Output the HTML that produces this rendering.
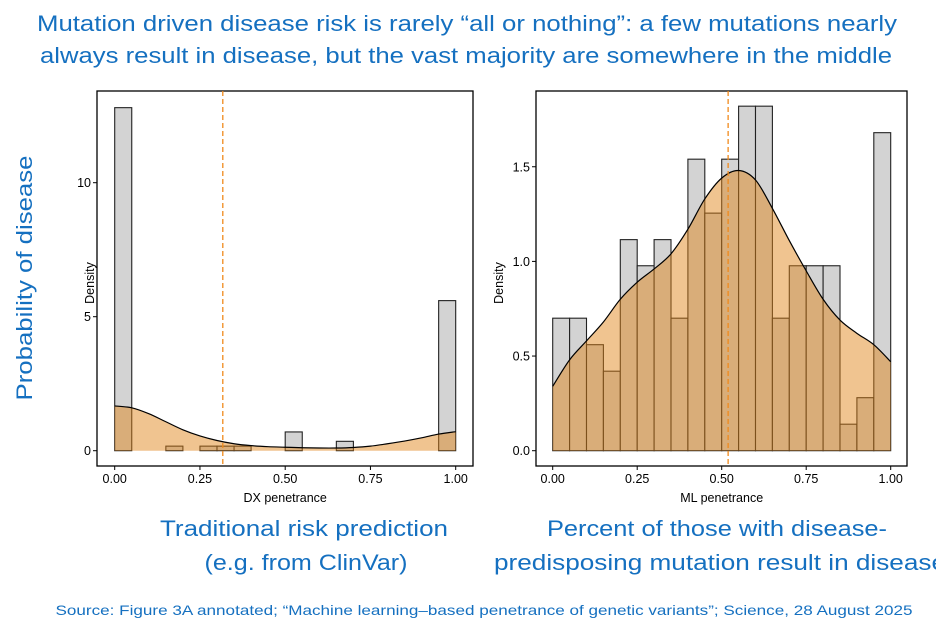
<!DOCTYPE html>
<html><head><meta charset="utf-8"><style>
html,body{margin:0;padding:0;background:#fff;width:936px;height:642px;overflow:hidden}
svg{display:block;font-family:"Liberation Sans",sans-serif}
.blue{fill:#1570c0}
</style></head><body>
<svg id="svg" width="936" height="642" viewBox="0 0 936 642">
<g>
<text class="blue" x="467" y="31" font-size="22" text-anchor="middle" textLength="860" lengthAdjust="spacingAndGlyphs">Mutation driven disease risk is rarely “all or nothing”: a few mutations nearly</text>
<text class="blue" x="466" y="63" font-size="22" text-anchor="middle" textLength="852" lengthAdjust="spacingAndGlyphs">always result in disease, but the vast majority are somewhere in the middle</text>
<text class="blue" transform="translate(32,278) rotate(-90)" font-size="22" text-anchor="middle" textLength="245" lengthAdjust="spacingAndGlyphs">Probability of disease</text>
<text class="blue" x="304" y="536" font-size="22" text-anchor="middle" textLength="288" lengthAdjust="spacingAndGlyphs">Traditional risk prediction</text>
<text class="blue" x="306" y="570" font-size="22" text-anchor="middle" textLength="203" lengthAdjust="spacingAndGlyphs">(e.g. from ClinVar)</text>
<text class="blue" x="717" y="536" font-size="22" text-anchor="middle" textLength="340" lengthAdjust="spacingAndGlyphs">Percent of those with disease-</text>
<text class="blue" x="494" y="570" font-size="22" textLength="452" lengthAdjust="spacingAndGlyphs">predisposing mutation result in disease</text>
<text class="blue" x="484" y="615" font-size="14" text-anchor="middle" textLength="857" lengthAdjust="spacingAndGlyphs">Source: Figure 3A annotated; “Machine learning–based penetrance of genetic variants”; Science, 28 August 2025</text>
</g>
<g id="left"></g>
<g id="right"></g>
</svg>
<script>
const binEdges = [0,0.05,0.1,0.15,0.2,0.25,0.3,0.35,0.4,0.45,0.5,0.55,0.6,0.65,0.7,0.75,0.8,0.85,0.9,0.95,1.0];
const leftHist = [12.8,0,0,0.17,0,0.17,0.17,0.17,0,0,0.7,0,0,0.35,0,0,0,0,0,5.6];
const leftDensX = [0,0.05,0.1,0.15,0.2,0.25,0.3,0.35,0.4,0.45,0.5,0.55,0.6,0.65,0.7,0.75,0.8,0.85,0.9,0.95,1.0];
const leftDensY = [1.67,1.6,1.38,1.08,0.78,0.55,0.38,0.26,0.19,0.15,0.13,0.11,0.1,0.1,0.12,0.17,0.26,0.36,0.48,0.62,0.71];
const leftTicksY = [0,5,10];
const leftMean = 0.317;
const rightHist = [0.70,0.70,0.56,0.42,1.115,0.977,1.115,0.70,1.54,1.255,1.54,1.82,1.82,0.70,0.977,0.977,0.977,0.14,0.28,1.68];
const rightDensX = [0,0.05,0.1,0.15,0.2,0.25,0.3,0.35,0.4,0.45,0.5,0.55,0.6,0.65,0.7,0.75,0.8,0.85,0.9,0.95,1.0];
const rightDensY = [0.34,0.48,0.58,0.68,0.80,0.89,0.96,1.04,1.17,1.33,1.44,1.48,1.43,1.28,1.11,0.95,0.80,0.69,0.62,0.56,0.47];
const rightTicksY = [0,0.5,1.0,1.5];
const rightTickLabelsY = ["0.0","0.5","1.0","1.5"];
const leftTickLabelsY = ["0","5","10"];
const ticksX = [0,0.25,0.5,0.75,1];
const tickLabelsX = ["0.00","0.25","0.50","0.75","1.00"];
const rightMean = 0.519;

const NS="http://www.w3.org/2000/svg";
function mk(parent,tag,attrs){const e=document.createElementNS(NS,tag);for(const k in attrs)e.setAttribute(k,attrs[k]);parent.appendChild(e);return e;}
function smooth(pts){let d=`M${pts[0][0]},${pts[0][1]}`;for(let i=0;i<pts.length-1;i++){const p0=pts[Math.max(0,i-1)],p1=pts[i],p2=pts[i+1],p3=pts[Math.min(pts.length-1,i+2)];
const c1=[p1[0]+(p2[0]-p0[0])/6,p1[1]+(p2[1]-p0[1])/6],c2=[p2[0]-(p3[0]-p1[0])/6,p2[1]-(p3[1]-p1[1])/6];d+=` C${c1[0]},${c1[1]} ${c2[0]},${c2[1]} ${p2[0]},${p2[1]}`;}return d;}

function chart(g,cfg){
  const xs=v=>cfg.x0+(cfg.x1-cfg.x0)*v, ys=v=>cfg.y0-cfg.ppu*v;
  let r=mk(g,'rect',{x:cfg.bx0,y:91,width:cfg.bx1-cfg.bx0,height:375,fill:'#fff',stroke:'#000','stroke-width':1.3});
  
  cfg.hist.forEach((h,i)=>{if(h<=0)return;const x=xs(binEdges[i]),w=xs(binEdges[i+1])-x;
    const b=mk(g,'rect',{x:x,y:ys(h),width:w,height:cfg.y0-ys(h),fill:'#d3d3d3',stroke:'#222','stroke-width':1.1});
    });
  const pts=cfg.dx.map((v,i)=>[xs(v),ys(cfg.dy[i])]);
  const line=smooth(pts);
  const a=mk(g,'path',{d:line+` L${xs(1)},${cfg.y0} L${xs(0)},${cfg.y0} Z`,fill:'rgb(224,132,24)','fill-opacity':0.48,stroke:'none'});
  
  const l=mk(g,'path',{d:line,fill:'none',stroke:'#000','stroke-width':1.2});
  
  const m=mk(g,'line',{x1:xs(cfg.mean),x2:xs(cfg.mean),y1:91,y2:466,stroke:'#f08a1c','stroke-width':1.3,'stroke-dasharray':'5,3'});
  
  ticksX.forEach((t,i)=>{mk(g,'line',{x1:xs(t),x2:xs(t),y1:466,y2:470,stroke:'#000'});
    const tx=mk(g,'text',{x:xs(t),y:483,'font-size':12.5,'text-anchor':'middle',fill:'#000'});tx.textContent=tickLabelsX[i];
    });
  cfg.ty.forEach((t,i)=>{mk(g,'line',{x1:cfg.bx0-4,x2:cfg.bx0,y1:ys(t),y2:ys(t),stroke:'#000'});
    const tx=mk(g,'text',{x:cfg.bx0-6,y:ys(t)+4.5,'font-size':12.5,'text-anchor':'end',fill:'#000'});tx.textContent=cfg.tl[i];
    });
  const xt=mk(g,'text',{x:(cfg.x0+cfg.x1)/2,y:502,'font-size':12.5,'text-anchor':'middle',fill:'#000'});xt.textContent=cfg.xlab;
  
  const yt=mk(g,'text',{transform:`translate(${cfg.ylx},283) rotate(-90)`,'font-size':12.5,'text-anchor':'middle',fill:'#000'});yt.textContent='Density';
  
}
chart(document.getElementById('left'),{bx0:97,bx1:473,x0:114.7,x1:455.7,y0:450.7,ppu:26.8,hist:leftHist,dx:leftDensX,dy:leftDensY,mean:leftMean,ty:leftTicksY,tl:leftTickLabelsY,xlab:'DX penetrance',ylx:94});
chart(document.getElementById('right'),{bx0:536,bx1:907,x0:552.7,x1:890.7,y0:450.7,ppu:189.3,hist:rightHist,dx:rightDensX,dy:rightDensY,mean:rightMean,ty:rightTicksY,tl:rightTickLabelsY,xlab:'ML penetrance',ylx:503});
</script>
</body></html>
